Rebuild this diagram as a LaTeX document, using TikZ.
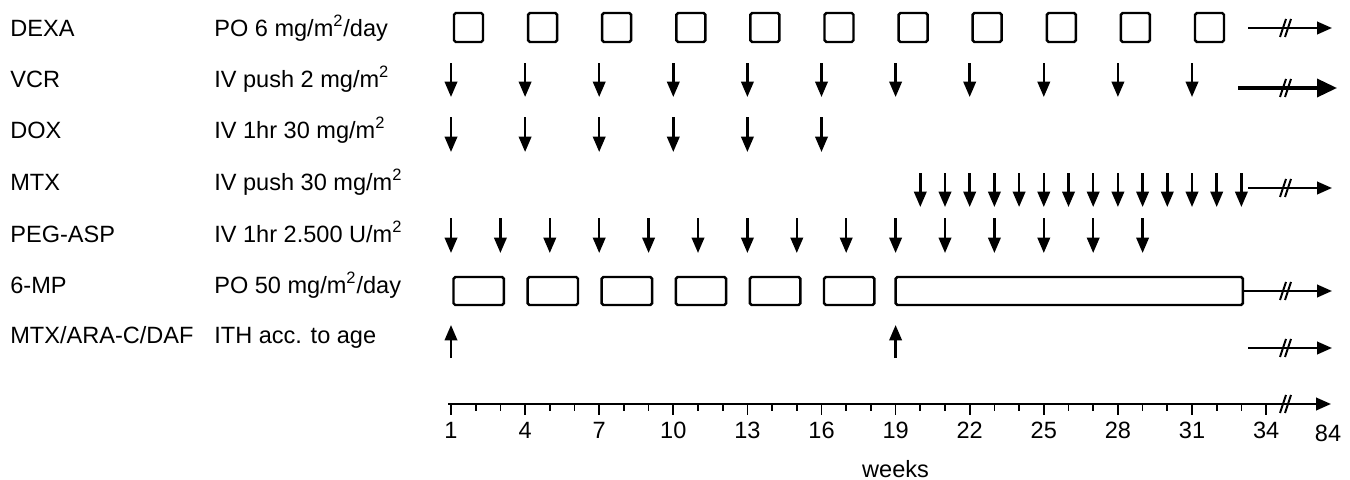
\documentclass[tikz,border=0pt]{standalone}
\usepackage{fontspec}
\setmainfont{Liberation Sans}
\usepackage{tikz}
\usetikzlibrary{arrows.meta, positioning, calc}

\begin{document}
\begin{tikzpicture}[x=0.02cm, y=-0.02cm,
      lbl/.style={anchor=base west, inner sep=0pt, font=\fontsize{13.4}{15}\selectfont},
      num/.style={anchor=base, inner sep=0pt, font=\fontsize{13.4}{15}\selectfont},
      dose/.style={line width=1.4pt, -{Triangle[length=3.1mm, width=2.5mm]}},
      cont/.style={line width=1.4pt, -{Triangle[length=3mm, width=2.5mm]}},
      dbox/.style={draw, line width=1.4pt, rounded corners=1pt},
      brk/.pic={\draw[line width=1.1pt] (-6,9) -- (0,-9) (-1,9) -- (5,-9);}]
    \useasboundingbox (0,0) rectangle (1350,480);
    % week positions on the time axis
    \foreach \n in {1,...,34}
      \coordinate (w\n) at ({451+(\n-1)*24.7},404);
    \coordinate (brk) at (1286,404);
    % drug and dose labels
    \node[lbl] (dexa) at (10,36) {DEXA};
    \node[lbl] (vcr) at (10,87) {VCR};
    \node[lbl] (dox) at (10,138) {DOX};
    \node[lbl] (mtx) at (10,190) {MTX};
    \node[lbl] (peg) at (10,242) {PEG-ASP};
    \node[lbl] (mp) at (10,293) {6-MP};
    \node[lbl] (ith) at (10,343) {MTX/ARA-C/DAF};
    \node[lbl] (dexadose) at (214,36) {PO 6 mg/m\textsuperscript{2}/day};
    \node[lbl] (vcrdose) at (214,87) {IV push 2 mg/m\textsuperscript{2}};
    \node[lbl] (doxdose) at (214,138) {IV 1hr 30 mg/m\textsuperscript{2}};
    \node[lbl] (mtxdose) at (214,190) {IV push 30 mg/m\textsuperscript{2}};
    \node[lbl] (pegdose) at (214,242) {IV 1hr 2.500 U/m\textsuperscript{2}};
    \node[lbl] (mpdose) at (214,293) {PO 50 mg/m\textsuperscript{2}/day};
    \node[lbl] (ithdose) at (214,343) {ITH acc. to age};
    % row limits
    \coordinate (dexaT) at (0,13); \coordinate (dexaB) at (0,42);
    \coordinate (vcrT) at (0,63); \coordinate (vcrB) at (0,97);
    \coordinate (doxT) at (0,117); \coordinate (doxB) at (0,152);
    \coordinate (mtxT) at (0,173); \coordinate (mtxB) at (0,207);
    \coordinate (pegT) at (0,218); \coordinate (pegB) at (0,253);
    \coordinate (mpT) at (0,277); \coordinate (mpB) at (0,305);
    \coordinate (ithT) at (0,325); \coordinate (ithB) at (0,358);
    % DEXA
    \foreach \n in {1,4,...,31}
      \draw[dbox] ($(w\n |- dexaT)+(3,0)$) rectangle ($(w\n |- dexaB)+(32,0)$);
    % VCR, DOX, MTX, PEG-ASP
    \foreach \n in {1,4,...,31}
      \draw[dose] (w\n |- vcrT) -- (w\n |- vcrB);
    \foreach \n in {1,4,...,16}
      \draw[dose] (w\n |- doxT) -- (w\n |- doxB);
    \foreach \n in {20,...,33}
      \draw[dose] (w\n |- mtxT) -- (w\n |- mtxB);
    \foreach \n in {1,3,...,29}
      \draw[dose] (w\n |- pegT) -- (w\n |- pegB);
    % 6-MP
    \foreach \n/\m in {1/3,4/6,7/9,10/12,13/15,16/18}
      \draw[dbox] ($(w\n |- mpT)+(2.5,0)$) rectangle ($(w\m |- mpB)+(3.5,0)$);
    \draw[dbox] (w19 |- mpT) rectangle ($(w33 |- mpB)+(1.5,0)$);
    % intrathecal
    \foreach \n in {1,19}
      \draw[dose] (w\n |- ithB) -- (w\n |- ithT);
    % continuation arrows
    \foreach \r/\y/\x in {dexa/28/1248, mtx/188/1248, mp/291/1243, ith/348/1248} {
      \coordinate (\r S) at (\x,\y);
      \coordinate (\r E) at (1332,\y);
      \draw[cont] (\r S) -- (\r E);
      \pic at (brk |- \r S) {brk};
    }
    \coordinate (vcrS) at (1238,88);
    \coordinate (vcrE) at (1337,88);
    \draw[line width=2pt, -{Triangle[length=4mm, width=3.6mm]}] (vcrS) -- (vcrE);
    \pic at (brk |- vcrS) {brk};
    % time axis
    \coordinate (ax0) at (448,404);
    \coordinate (axE) at (1331,404);
    \draw[cont] (ax0) -- (axE);
    \pic at (brk) {brk};
    \foreach \n in {1,...,34}
      \draw[line width=1pt] (w\n) -- ++(0,7);
    \coordinate (numrow) at (0,438);
    \foreach \n in {1,4,...,34} {
      \draw[line width=1pt] (w\n) -- ++(0,11);
      \node[num] (n\n) at (w\n |- numrow) {\n};
    }
    \node[num] (n84) at (1328,441) {84};
    \coordinate (wkrow) at (0,477);
    \node[num] (weeks) at (w19 |- wkrow) {weeks};
\end{tikzpicture}
\end{document}
